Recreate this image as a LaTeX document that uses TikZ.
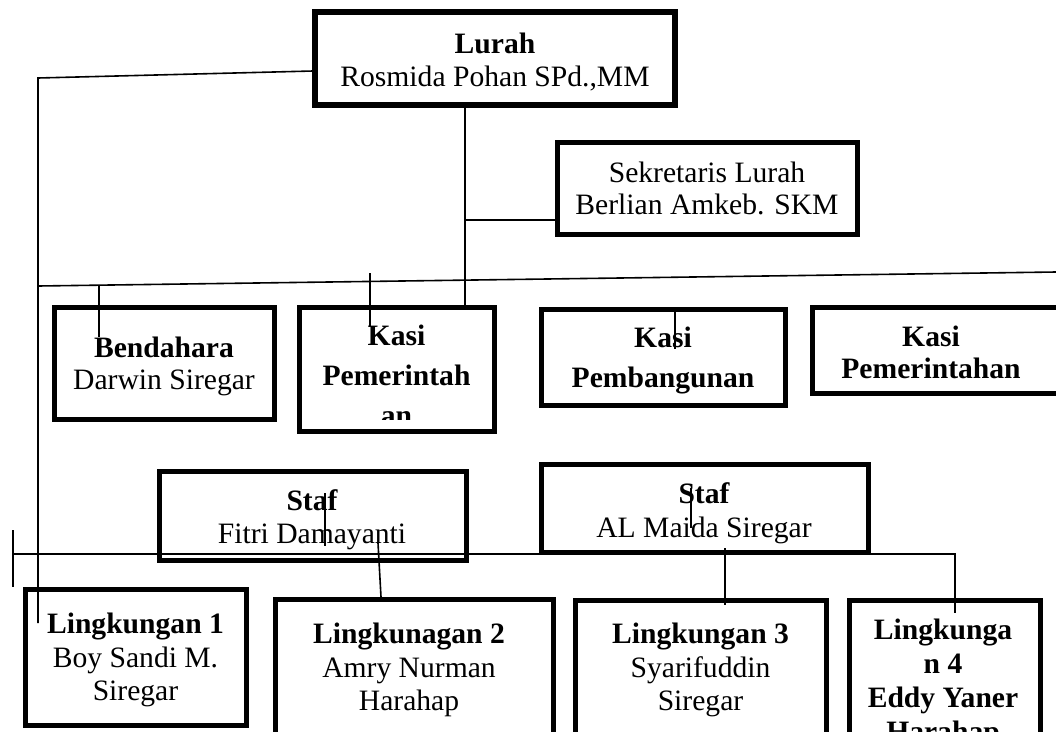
\documentclass[tikz,border=0pt]{standalone}
\usepackage{fontspec}
\setmainfont{Liberation Serif}
\newcommand\fsz{\fontsize{29.6}{33}\selectfont}
\begin{document}
\begin{tikzpicture}[x=1pt,y=-1pt,
  box/.style={draw,line width=5pt,inner sep=0pt,outer sep=0pt},
  conn/.style={line width=1.6pt},
  t/.style={font=\fsz,anchor=base,inner sep=0pt},
  tb/.style={t,font=\fsz\bfseries}]
\path[use as bounding box] (0,0) rectangle (1056,731);
\clip (0,0) rectangle (1056,731);
% boxes
\node[box,line width=5.5pt,minimum width=360pt,minimum height=93pt] (lurah) at (495,58.5) {};
\node[box,minimum width=300pt,minimum height=92pt] (sek) at (707,188) {};
\node[box,minimum width=220pt,minimum height=112pt] (bend) at (164,363) {};
\node[box,minimum width=195pt,minimum height=124pt] (kpem) at (396.5,369) {};
\node[box,minimum width=244pt,minimum height=96pt] (kbang) at (663,357) {};
\node[box,minimum width=250pt,minimum height=86pt] (kpemn) at (937,350) {};
\node[box,minimum width=307pt,minimum height=89pt] (staf1) at (312.5,515.5) {};
\node[box,minimum width=327pt,minimum height=88pt] (staf2) at (704.5,508) {};
\node[box,minimum width=221pt,minimum height=136pt] (l1) at (135.5,657) {};
\node[box,minimum width=278pt,minimum height=161pt] (l2) at (414,679.5) {};
\node[box,minimum width=251pt,minimum height=160pt] (l3) at (700.5,680) {};
\node[box,minimum width=191pt,minimum height=160pt] (l4) at (944.5,680) {};
% texts
\node[tb] (lurahA) at (495,53) {Lurah};
\node[t] (lurahB) at (495,86) {Rosmida Pohan SPd.,MM};
\node[t] (sekA) at (707,182) {Sekretaris Lurah};
\node[t] (sekB) at (707,214) {Berlian Amkeb. SKM};
\node[tb] (bendA) at (164,357) {Bendahara};
\node[t] (bendB) at (164,389) {Darwin Siregar};
\node[tb] (kpemA) at (396.5,345) {Kasi};
\node[tb] (kpemB) at (396.5,385) {Pemerintah};
\begin{scope}
\clip (299,300) rectangle (494,419);
\node[tb] (kpemC) at (396.5,425) {an};
\end{scope}
\node[tb] (kbangA) at (663,347) {Kasi};
\node[tb] (kbangB) at (663,387) {Pembangunan};
\node[tb] (kpemnA) at (931,346) {Kasi};
\node[tb] (kpemnB) at (931,378) {Pemerintahan};
\node[tb] (staf1A) at (312,510) {Staf};
\node[t] (staf1B) at (312,543) {Fitri Damayanti};
\node[tb] (staf2A) at (704,503) {Staf};
\node[t] (staf2B) at (704,537) {AL Maida Siregar};
\node[tb] (l1A) at (135.5,633) {Lingkungan 1};
\node[t] (l1B) at (135.5,667) {Boy Sandi M.};
\node[t] (l1C) at (135.5,700) {Siregar};
\node[tb] (l2A) at (409,643) {Lingkunagan 2};
\node[t] (l2B) at (409,677) {Amry Nurman};
\node[t] (l2C) at (409,710) {Harahap};
\node[tb] (l3A) at (700.5,643) {Lingkungan 3};
\node[t] (l3B) at (700.5,677) {Syarifuddin};
\node[t] (l3C) at (700.5,710) {Siregar};
\node[tb] (l4A) at (943,639) {Lingkunga};
\node[tb] (l4B) at (943,673) {n 4};
\node[tb] (l4C) at (943,707) {Eddy Yaner};
\node[tb] (l4D) at (943,741) {Harahap};
% connector points
\coordinate (lurahL) at (313,71);
\coordinate (ltop) at (38,78);
\coordinate (lbot) at (38,623);
\coordinate (lurahS) at (465,107);
\coordinate (kpemN) at (465,305);
\coordinate (sekJ) at (465,220);
\coordinate (sekW) at (555,220);
\coordinate (hL) at (38,286);
\coordinate (hR) at (1056,272);
\coordinate (t1a) at (99,286);
\coordinate (t1b) at (99,337);
\coordinate (t2a) at (370,273);
\coordinate (t2b) at (370,327);
\coordinate (t3a) at (675,307);
\coordinate (t3b) at (675,349);
\coordinate (t4a) at (325,493);
\coordinate (t4b) at (325,546);
\coordinate (t5a) at (691,488);
\coordinate (t5b) at (691,528);
\coordinate (bL) at (13,554);
\coordinate (bR) at (955,554);
\coordinate (l4N) at (955,613);
\coordinate (t6a) at (13,530);
\coordinate (t6b) at (13,587);
\coordinate (f1) at (378,543);
\coordinate (l2N) at (381,597);
\coordinate (a1) at (725,548);
\coordinate (l3N) at (725,605);
% connectors
\draw[conn] (lurahL) -- (ltop) -- (lbot);
\draw[conn] (lurahS) -- (kpemN);
\draw[conn] (sekJ) -- (sekW);
\draw[conn] (hL) -- (hR);
\draw[conn] (t1a) -- (t1b);
\draw[conn] (t2a) -- (t2b);
\draw[conn] (t3a) -- (t3b);
\draw[conn] (t4a) -- (t4b);
\draw[conn] (t5a) -- (t5b);
\draw[conn] (bL) -- (bR) -- (l4N);
\draw[conn] (t6a) -- (t6b);
\draw[conn] (f1) -- (l2N);
\draw[conn] (a1) -- (l3N);
\end{tikzpicture}
\end{document}
